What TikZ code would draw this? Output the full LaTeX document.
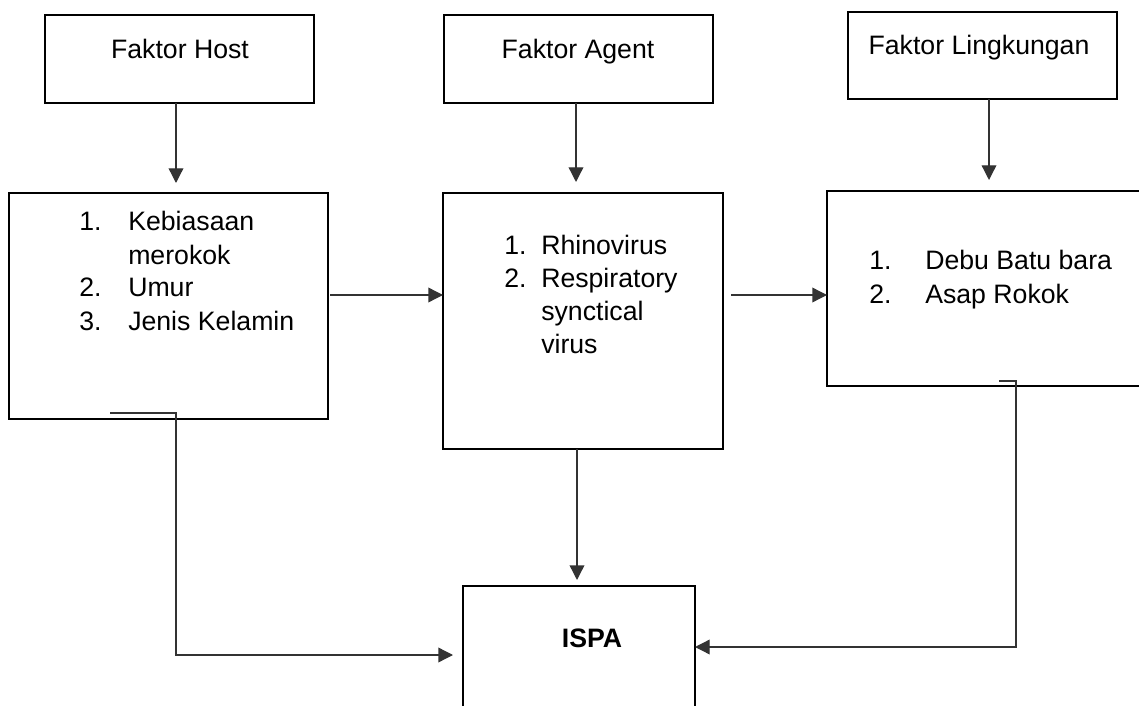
\documentclass[tikz,border=0pt]{standalone}
\usepackage{fontspec}
\setmainfont{Liberation Sans}
\usetikzlibrary{arrows.meta,calc}

\begin{document}
\begin{tikzpicture}[x=0.75pt,y=-0.75pt,
  box/.style={draw=black, line width=1.7pt, inner sep=0pt, outer sep=0pt, anchor=north west},
  lbl/.style={inner sep=0pt, font=\fontsize{20}{24.75}\selectfont},
  arr/.style={draw=black!80, line width=1pt, -{Triangle[length=11pt,width=11pt]}}]

\useasboundingbox (0,0) rectangle (1139,706);
\clip (0,0) rectangle (1139,706);

% top row: the three factors
\node[box, minimum width=269*0.75pt, minimum height=88*0.75pt] (host)  at (45,15)  {};
\node[box, minimum width=269*0.75pt, minimum height=88*0.75pt] (agent) at (444,15) {};
\node[box, minimum width=269*0.75pt, minimum height=87*0.75pt] (ling)  at (848,12) {};

% middle row: the lists
\node[box, minimum width=319*0.75pt, minimum height=226*0.75pt] (b1) at (9,193)   {};
\node[box, minimum width=280*0.75pt, minimum height=256*0.75pt] (b2) at (443,193) {};
\node[box, minimum width=340*0.75pt, minimum height=195*0.75pt] (b3) at (827,191) {};

% outcome
\node[box, minimum width=232*0.75pt, minimum height=138*0.75pt] (ispa) at (463,586) {};

% texts
\node[lbl, anchor=base] (thost)  at (180,59) {Faktor Host};
\node[lbl, anchor=base] (tagent) at (578,59) {Faktor Agent};
\node[lbl, anchor=base] (tling)  at (979,55) {Faktor Lingkungan};

\node[lbl, anchor=base west] (l1) at (79,231)
  {\begin{tabular}[t]{@{}p{36.75pt}@{}l@{}}
   1. & Kebiasaan\\
      & merokok\\
   2. & Umur\\
   3. & Jenis Kelamin
   \end{tabular}};
\node[lbl, anchor=base west] (l2) at (504,254)
  {\begin{tabular}[t]{@{}p{27.75pt}@{}l@{}}
   1. & Rhinovirus\\
   2. & Respiratory\\
      & synctical\\
      & virus
   \end{tabular}};
\node[lbl, anchor=base west] (l3) at (869,269)
  {\renewcommand\arraystretch{1.04}%
   \begin{tabular}[t]{@{}p{42pt}@{}l@{}}
   1. & Debu Batu bara\\
   2. & Asap Rokok
   \end{tabular}};

\node[lbl, anchor=base, font=\bfseries\fontsize{20}{24}\selectfont] (tispa) at (592,647) {ISPA};

% connectors
\draw[arr, shorten >=7.5pt]  ($(host.south)+(-3.5,0)$)  coordinate (a1) -- (a1 |- b1.north);
\draw[arr, shorten >=8.25pt] ($(agent.south)+(-2.5,0)$) coordinate (a2) -- (a2 |- b2.north);
\draw[arr, shorten >=8.25pt] ($(ling.south)+(6.5,0)$)   coordinate (a3) -- (a3 |- b3.north);

\draw[arr] ($(b1.east)+(2,-11)$) coordinate (q1) -- (q1 -| b2.west);
\draw[arr] ($(b2.east)+(8,-26)$) coordinate (q2) -- (q2 -| b3.west);
\draw[arr, shorten >=4.5pt] ($(b2.south)+(-6,0)$) coordinate (q3) -- (q3 |- ispa.north);

\coordinate (hostout) at (110,413);
\coordinate (lingout) at (999,381);
\draw[arr, shorten >=7.5pt] (hostout) -- ++(66,0) |- (ispa.west);
\draw[arr] (lingout) -- ++(17,0) |- ($(ispa.east)+(0,-8)$);

\end{tikzpicture}
\end{document}
